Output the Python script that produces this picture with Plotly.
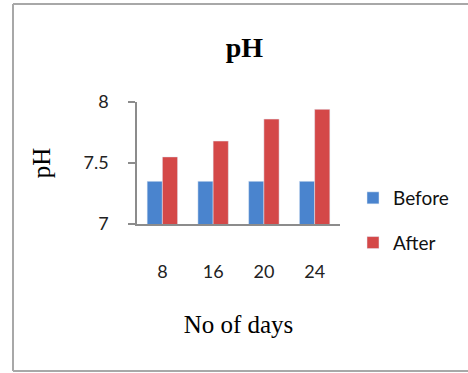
import plotly.graph_objects as go

# pH readings over the incubation period
days = ["8", "16", "20", "24"]
ph_before = [7.35, 7.35, 7.35, 7.35]
ph_after = [7.55, 7.68, 7.86, 7.94]

W, H = 468, 373
ML, MR, MT, MB = 137, 128, 102, 149
PW, PH = W - ML - MR, H - MT - MB

def px_x(x):
    return (x - ML) / PW

def px_y(y):
    return (H - MB - y) / PH

fig = go.Figure()
fig.add_trace(go.Bar(x=days, y=ph_before, name="Before", marker_color="#4A84CE",
                     legendgroup="b"))
fig.add_trace(go.Bar(x=days, y=ph_after, name="After", marker_color="#D44848",
                     legendgroup="a"))

axis_col = "#8c8c8c"
serif = "Liberation Serif, Times New Roman, serif"
sans = "Lato, Calibri, sans-serif"

# outer chart frame (top, left, bottom edges)
frame = dict(type="line", xref="paper", yref="paper",
             line=dict(color="#a8a8a8", width=2), layer="below")
fig.add_shape(**frame, x0=px_x(13), x1=px_x(470), y0=px_y(4), y1=px_y(4))
fig.add_shape(**frame, x0=px_x(13), x1=px_x(13), y0=px_y(4), y1=px_y(371))
fig.add_shape(**frame, x0=px_x(13), x1=px_x(470), y0=px_y(371), y1=px_y(371))

fig.update_layout(
    width=W, height=H,
    margin=dict(l=ML, r=MR, t=MT, b=MB, autoexpand=False),
    paper_bgcolor="white", plot_bgcolor="white",
    barmode="group", bargap=0.4, bargroupgap=0,
    title=dict(text="<b>pH</b>", x=px_x(243), xanchor="center",
               y=1 - 47 / H, yanchor="middle",
               font=dict(family=serif, size=28, color="black")),
    xaxis=dict(
        showline=True, linecolor=axis_col, linewidth=1.5,
        ticks="", showgrid=False, ticklabelstandoff=31,
        tickfont=dict(family=sans, size=18, color="#222"),
        title=dict(text="No of days", standoff=34,
                   font=dict(family=serif, size=25, color="black")),
    ),
    yaxis=dict(
        range=[7, 8], tickvals=[7, 7.5, 8], ticktext=["7", "7.5", "8"],
        showline=True, linecolor=axis_col, linewidth=1.5,
        ticks="outside", ticklen=7, tickcolor=axis_col, tickwidth=1.5,
        ticklabelstandoff=16,
        showgrid=False, zeroline=False,
        tickfont=dict(family=sans, size=18, color="#222"),
        title=dict(text="pH", standoff=26,
                   font=dict(family=serif, size=25, color="black")),
    ),
    legend=dict(x=px_x(353), xanchor="left", y=px_y(179), yanchor="top",
                font=dict(family=sans, size=19, color="#111"),
                tracegroupgap=17, itemwidth=30, bgcolor="rgba(0,0,0,0)"),
    showlegend=True,
)

fig.write_html("out.html")
